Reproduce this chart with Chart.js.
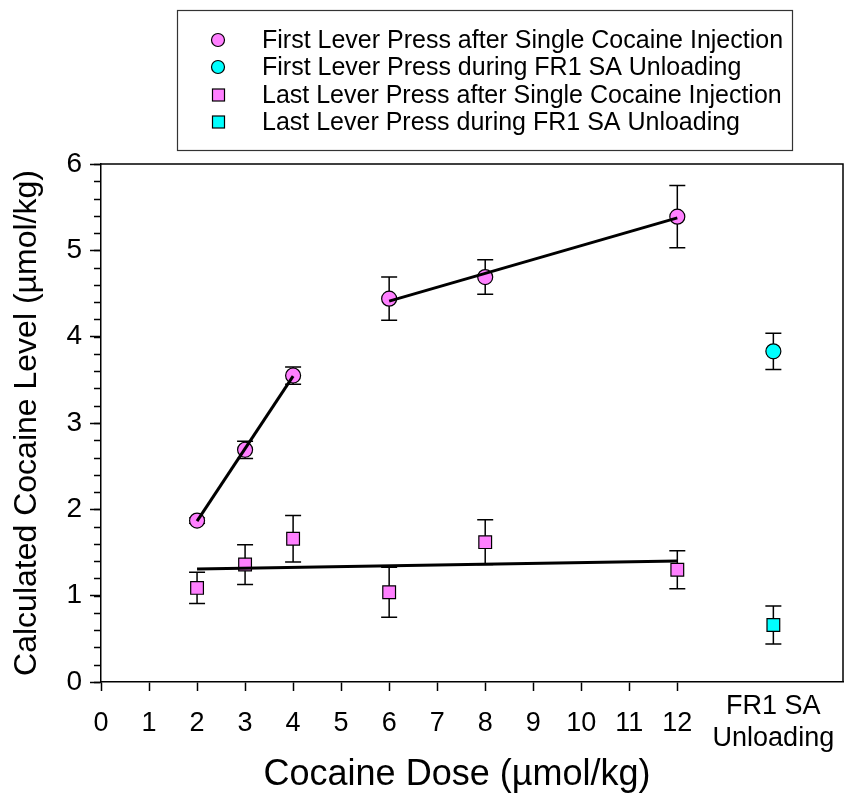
<!DOCTYPE html>
<html>
<head>
<meta charset="utf-8">
<script src="https://cdn.jsdelivr.net/npm/chart.js@4"></script>
<style>
  html, body { margin: 0; padding: 0; background: #fff; }
  #wrap { width: 844px; height: 797px; }
</style>
</head>
<body>
<div id="wrap"><canvas id="cocaineChart" width="844" height="797"></canvas></div>
<script>
// cocaine dose (umol/kg) for the single injection groups
const doses = [2, 3, 4, 6, 8, 12];
const firstInj = [1.87, 2.69, 3.55, 4.44, 4.69, 5.39];
const firstInjErr = [0.03, 0.10, 0.10, 0.25, 0.20, 0.36];
const lastInj = [1.09, 1.36, 1.66, 1.04, 1.62, 1.30];
const lastInjErr = [0.18, 0.23, 0.27, 0.29, 0.26, 0.22];

// FR1 self-administration unloading, drawn at its own spot right of 12
const unloadX = 14;
const firstUnload = [3.83];
const firstUnloadErr = [0.21];
const lastUnload = [0.66];
const lastUnloadErr = [0.22];

const xTicks = [0, 1, 2, 3, 4, 5, 6, 7, 8, 9, 10, 11, 12, unloadX];
const unloadLabel = ["FR1 SA", "Unloading"];
const legendLabels = [
    "First Lever Press after Single Cocaine Injection",
    "First Lever Press during FR1 SA Unloading",
    "Last Lever Press after Single Cocaine Injection",
    "Last Lever Press during FR1 SA Unloading"
];
const xTitle = "Cocaine Dose (\u00b5mol/kg)";
const yTitle = "Calculated Cocaine Level (\u00b5mol/kg)";

const PINK = "#ff80ff";
const CYAN = "#00ffff";
const FONT = "'Liberation Sans', Arial, sans-serif";
const X_MAX = 15.45;

// least squares line over a set of points, returned as its two end points
function fitLine(xs, ys) {
    const n = xs.length;
    const mx = xs.reduce((a, b) => a + b, 0) / n;
    const my = ys.reduce((a, b) => a + b, 0) / n;
    let sxy = 0, sxx = 0;
    for (let i = 0; i < n; i++) {
        sxy += (xs[i] - mx) * (ys[i] - my);
        sxx += (xs[i] - mx) * (xs[i] - mx);
    }
    const slope = sxy / sxx;
    const x0 = Math.min(...xs), x1 = Math.max(...xs);
    return [{ x: x0, y: my + slope * (x0 - mx) }, { x: x1, y: my + slope * (x1 - mx) }];
}

const pts = (xs, ys) => ys.map((y, i) => ({ x: xs[i], y: y }));

const fitLow = fitLine(doses.slice(0, 3), firstInj.slice(0, 3));
const fitHigh = fitLine(doses.slice(3), firstInj.slice(3));
const fitLast = fitLine(doses, lastInj);

function markerSet(label, data, errs, color, shape) {
    return {
        type: "scatter",
        label: label,
        data: data,
        errors: errs,
        backgroundColor: color,
        borderColor: "#000",
        borderWidth: 1.2,
        pointStyle: shape,
        pointRadius: shape === "rect" ? 9 : 7.5,
        pointHoverRadius: shape === "rect" ? 9 : 7.5,
        order: 1
    };
}

function fitSet(data) {
    return {
        type: "line",
        data: data,
        borderColor: "#000",
        borderWidth: 3,
        pointRadius: 0,
        fill: false,
        order: 0,
        isFit: true
    };
}

const datasets = [
    fitSet(fitLow),
    fitSet(fitHigh),
    fitSet(fitLast),
    markerSet(legendLabels[0], pts(doses, firstInj), firstInjErr, PINK, "circle"),
    markerSet(legendLabels[1], pts([unloadX], firstUnload), firstUnloadErr, CYAN, "circle"),
    markerSet(legendLabels[2], pts(doses, lastInj), lastInjErr, PINK, "rect"),
    markerSet(legendLabels[3], pts([unloadX], lastUnload), lastUnloadErr, CYAN, "rect")
];

// error bars, minor y ticks, plot frame, x title and the boxed legend
const extras = {
    id: "extras",
    beforeDatasetsDraw(chart) {
        const ctx = chart.ctx;
        const xs = chart.scales.x, ys = chart.scales.y;
        ctx.save();
        ctx.strokeStyle = "#000";
        ctx.lineWidth = 1.5;
        chart.data.datasets.forEach(ds => {
            if (!ds.errors) return;
            ds.data.forEach((p, i) => {
                const px = xs.getPixelForValue(p.x);
                const top = ys.getPixelForValue(p.y + ds.errors[i]);
                const bot = ys.getPixelForValue(p.y - ds.errors[i]);
                ctx.beginPath();
                ctx.moveTo(px, top); ctx.lineTo(px, bot);
                ctx.moveTo(px - 8, top); ctx.lineTo(px + 8, top);
                ctx.moveTo(px - 8, bot); ctx.lineTo(px + 8, bot);
                ctx.stroke();
            });
        });
        ctx.restore();
    },
    afterDraw(chart) {
        const ctx = chart.ctx;
        const area = chart.chartArea;
        const ys = chart.scales.y;
        ctx.save();
        ctx.strokeStyle = "#000";
        ctx.lineWidth = 1.5;
        // minor ticks on the y axis
        ctx.beginPath();
        for (let v = 0; v <= 6.001; v += 0.2) {
            const py = Math.round(ys.getPixelForValue(v)) + 0.5;
            ctx.moveTo(area.left - 7, py);
            ctx.lineTo(area.left, py);
        }
        ctx.stroke();
        // top and right side of the frame
        ctx.beginPath();
        ctx.moveTo(area.left, area.top);
        ctx.lineTo(area.right, area.top);
        ctx.lineTo(area.right, area.bottom);
        ctx.stroke();

        // x axis title, centred under the dose part of the axis
        ctx.fillStyle = "#000";
        ctx.font = "36px " + FONT;
        ctx.textAlign = "center";
        ctx.textBaseline = "middle";
        ctx.fillText(xTitle, 457, 775);

        // legend box
        ctx.textAlign = "left";
        ctx.lineWidth = 1.2;
        ctx.strokeStyle = "#333";
        ctx.strokeRect(177.5, 10.5, 615, 140);
        const rows = [40, 67, 95, 122];
        const markers = chart.data.datasets.filter(ds => !ds.isFit);
        ctx.font = "25px " + FONT;
        markers.forEach((ds, i) => {
            ctx.fillStyle = ds.backgroundColor;
            ctx.strokeStyle = "#000";
            ctx.lineWidth = 1.2;
            if (ds.pointStyle === "circle") {
                ctx.beginPath();
                ctx.arc(218, rows[i], 6.5, 0, Math.PI * 2);
                ctx.fill(); ctx.stroke();
            } else {
                ctx.fillRect(212.5, rows[i] - 6, 12, 12);
                ctx.strokeRect(212.5, rows[i] - 6, 12, 12);
            }
            ctx.fillStyle = "#000";
            ctx.fillText(ds.label, 262, rows[i] + 1);
        });
        ctx.restore();
    }
};

new Chart(document.getElementById("cocaineChart").getContext("2d"), {
    type: "scatter",
    data: { datasets: datasets },
    plugins: [extras],
    options: {
        responsive: false,
        animation: false,
        layout: { autoPadding: false, padding: { top: 164, right: 1, left: 0, bottom: 0 } },
        plugins: {
            legend: { display: false },
            tooltip: { enabled: false }
        },
        scales: {
            x: {
                type: "linear",
                min: 0,
                max: X_MAX,
                afterFit: s => { s.height = 115; },
                // a blank tick at the right end keeps Chart.js from padding for the last label
                afterBuildTicks: s => { s.ticks = xTicks.concat([X_MAX]).map(v => ({ value: v })); },
                border: { color: "#000", width: 1.5 },
                grid: {
                    drawOnChartArea: false,
                    drawTicks: true,
                    tickLength: 9,
                    tickWidth: 1.5,
                    tickColor: c => (c.tick && c.tick.value > 12) ? "rgba(0,0,0,0)" : "#000"
                },
                ticks: {
                    autoSkip: false,
                    maxRotation: 0,
                    padding: 0,
                    color: "#000",
                    font: c => (c.tick && c.tick.value === unloadX)
                        ? { family: FONT, size: 27, lineHeight: 1.17 }
                        : { family: FONT, size: 27, lineHeight: 2.4 },
                    callback: v => v === unloadX ? unloadLabel : (xTicks.includes(v) ? String(v) : "")
                },
                title: { display: false }
            },
            y: {
                min: 0,
                max: 6,
                afterFit: s => { s.width = 101; },
                border: { color: "#000", width: 1.5 },
                grid: {
                    drawOnChartArea: false,
                    drawTicks: true,
                    tickLength: 11,
                    tickWidth: 1.5,
                    tickColor: "#000"
                },
                ticks: {
                    stepSize: 1,
                    padding: 8,
                    color: "#000",
                    font: { family: FONT, size: 28 }
                },
                title: {
                    display: true,
                    text: yTitle,
                    color: "#000",
                    font: { family: FONT, size: 32 },
                    padding: { top: 8, bottom: 0 }
                }
            }
        }
    }
});
</script>
</body>
</html>
